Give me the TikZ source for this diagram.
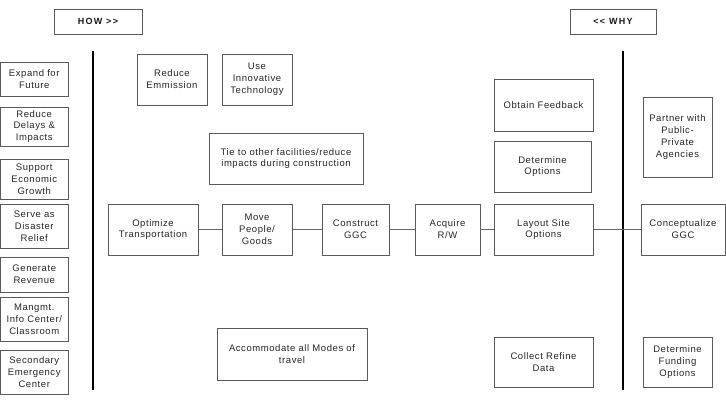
\documentclass[tikz,border=0pt]{standalone}
\usepackage{fontspec}
\setmainfont{Liberation Sans}[LetterSpace=6]
\newfontfamily\hdrfont{Liberation Sans}[LetterSpace=14]
\begin{document}
\begin{tikzpicture}[x=1pt,y=-1pt,
  bx/.style={draw=black!65,line width=0.9pt,rectangle,inner sep=1pt,align=center,
    text=black!85,font=\fontsize{9.5}{11.8}\selectfont},
  hdr/.style={bx,font=\hdrfont\bfseries\fontsize{9}{11}\selectfont,text=black!90},
  conn/.style={draw=black!60,line width=0.9pt},
  divider/.style={draw=black,line width=2pt}]
\useasboundingbox (0,0) rectangle (726,402);
% headers
\node[hdr,minimum width=88pt,minimum height=25pt] (how) at (98,21.5) {HOW >>};
\node[hdr,minimum width=86pt,minimum height=25pt] (why) at (613,21.5) {<< WHY};
% dividers
\coordinate (l1) at (93,51); \coordinate (l2) at (93,390);
\coordinate (r1) at (623,51); \coordinate (r2) at (623,390);
\draw[divider] (l1) -- (l2);
\draw[divider] (r1) -- (r2);
% left column
\node[bx,minimum width=67.5pt,minimum height=34pt] (expand) at (34.25,79) {Expand for\\Future};
\node[bx,minimum width=67.5pt,minimum height=39pt] (delays) at (34.25,126.5) {Reduce\\Delays \&\\Impacts};
\node[bx,minimum width=67.5pt,minimum height=40pt] (econ) at (34.25,179) {Support\\Economic\\Growth};
\node[bx,minimum width=67.5pt,minimum height=44pt] (disaster) at (34.25,226) {Serve as\\Disaster\\Relief};
\node[bx,minimum width=67.5pt,minimum height=35pt] (revenue) at (34.25,274.5) {Generate\\Revenue};
\node[bx,minimum width=67.5pt,minimum height=44pt] (mangmt) at (34.25,319) {Mangmt.\\Info Center/\\Classroom};
\node[bx,minimum width=67.5pt,minimum height=44pt] (secondary) at (34.25,372) {Secondary\\Emergency\\Center};
% middle
\node[bx,minimum width=70pt,minimum height=51pt] (emmission) at (172,79.5) {Reduce\\Emmission};
\node[bx,minimum width=70pt,minimum height=51pt] (innov) at (257,79.5) {Use\\Innovative\\Technology};
\node[bx,minimum width=154pt,minimum height=51pt] (tie) at (286,158.5) {Tie to other facilities/reduce\\impacts during construction};
\node[bx,minimum width=90pt,minimum height=51pt] (optimize) at (153,229.5) {Optimize\\Transportation};
\node[bx,minimum width=70pt,minimum height=51pt] (move) at (257,229.5) {Move\\People/\\Goods};
\node[bx,minimum width=67pt,minimum height=51pt] (construct) at (355.5,229.5) {Construct\\GGC};
\node[bx,minimum width=65pt,minimum height=51pt] (acquire) at (447.5,229.5) {Acquire\\R/W};
\node[bx,minimum width=99pt,minimum height=51pt] (layout) at (543.5,229.5) {Layout Site\\Options};
\node[bx,minimum width=84pt,minimum height=51pt] (concept) at (683,229.5) {Conceptualize\\GGC};
\node[bx,minimum width=150pt,minimum height=52pt] (accom) at (292,354) {Accommodate all Modes of\\travel};
\node[bx,minimum width=99pt,minimum height=50pt] (collect) at (543.5,362) {Collect Refine\\Data};
\node[bx,minimum width=69pt,minimum height=50pt] (funding) at (677.5,362) {Determine\\Funding\\Options};
\node[bx,minimum width=99pt,minimum height=52pt] (feedback) at (543.5,105) {Obtain Feedback};
\node[bx,minimum width=97pt,minimum height=51pt] (detopt) at (542.5,166.5) {Determine\\Options};
\node[bx,minimum width=69pt,minimum height=80pt] (partner) at (677.5,137) {Partner with\\Public-\\Private\\Agencies};
% connectors
\draw[conn] (optimize) -- (move);
\draw[conn] (move) -- (construct);
\draw[conn] (construct) -- (acquire);
\draw[conn] (acquire) -- (layout);
\draw[conn] (layout) -- (concept);
\end{tikzpicture}
\end{document}
